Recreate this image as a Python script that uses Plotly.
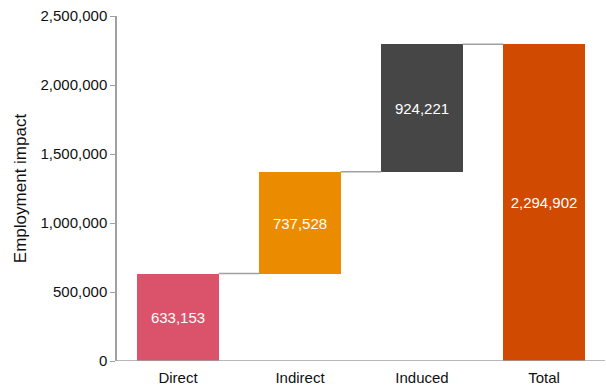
import plotly.graph_objects as go

categories = ["Direct", "Indirect", "Induced", "Total"]
values = [633153, 737528, 924221, 2294902]
is_total = [False, False, False, True]
colors = ["#DB536A", "#EB8C00", "#464646", "#D04A02"]
y_ticks = [0, 500000, 1000000, 1500000, 2000000, 2500000]

bases, tops = [], []
running = 0
for v, t in zip(values, is_total):
    if t:
        bases.append(0)
        tops.append(v)
        running = v
    else:
        bases.append(running)
        running += v
        tops.append(running)
heights = [tp - b for tp, b in zip(tops, bases)]
xs = list(range(len(categories)))
bar_w = 0.667

fig = go.Figure()
# connectors
for i in range(len(categories) - 1):
    fig.add_trace(go.Scatter(
        x=[xs[i] + bar_w / 2, xs[i + 1] - bar_w / 2],
        y=[tops[i], tops[i]],
        mode="lines", line=dict(color="#A0A0A0", width=1.5),
        hoverinfo="skip", showlegend=False))

fig.add_trace(go.Bar(
    x=xs, y=heights, base=bases, width=bar_w,
    marker=dict(color=colors, line=dict(width=0)),
    text=[f"{v:,}" for v in values], textposition="inside",
    insidetextanchor="middle",
    textfont=dict(color="white", size=15, family="Liberation Sans, Arial"),
    showlegend=False))

fig.update_layout(
    width=606, height=389,
    margin=dict(l=117, r=1, t=16, b=28),
    plot_bgcolor="white", paper_bgcolor="white",
    font=dict(family="Liberation Sans, Arial", size=15, color="#111"),
    xaxis=dict(tickvals=xs, ticktext=categories, range=[-0.5, 3.5],
               showgrid=False, zeroline=False, showline=False, ticks="",
               ticklabelstandoff=6,
               tickfont=dict(size=15)),
    yaxis=dict(range=[0, 2500000], tickvals=y_ticks,
               ticktext=[f"{t:,}" for t in y_ticks],
               showgrid=False, zeroline=False,
               showline=True, linecolor="#A0A0A0", linewidth=1.5,
               ticks="outside", ticklen=5, tickcolor="#A0A0A0",
               tickfont=dict(size=15),
               title=dict(text="Employment impact", font=dict(size=17), standoff=10)),
    shapes=[dict(type="line", xref="paper", yref="y", x0=0, x1=1, y0=0, y1=0,
                 line=dict(color="#A0A0A0", width=1.5), layer="above")],
    bargap=0,
)

fig.write_html("out.html")
